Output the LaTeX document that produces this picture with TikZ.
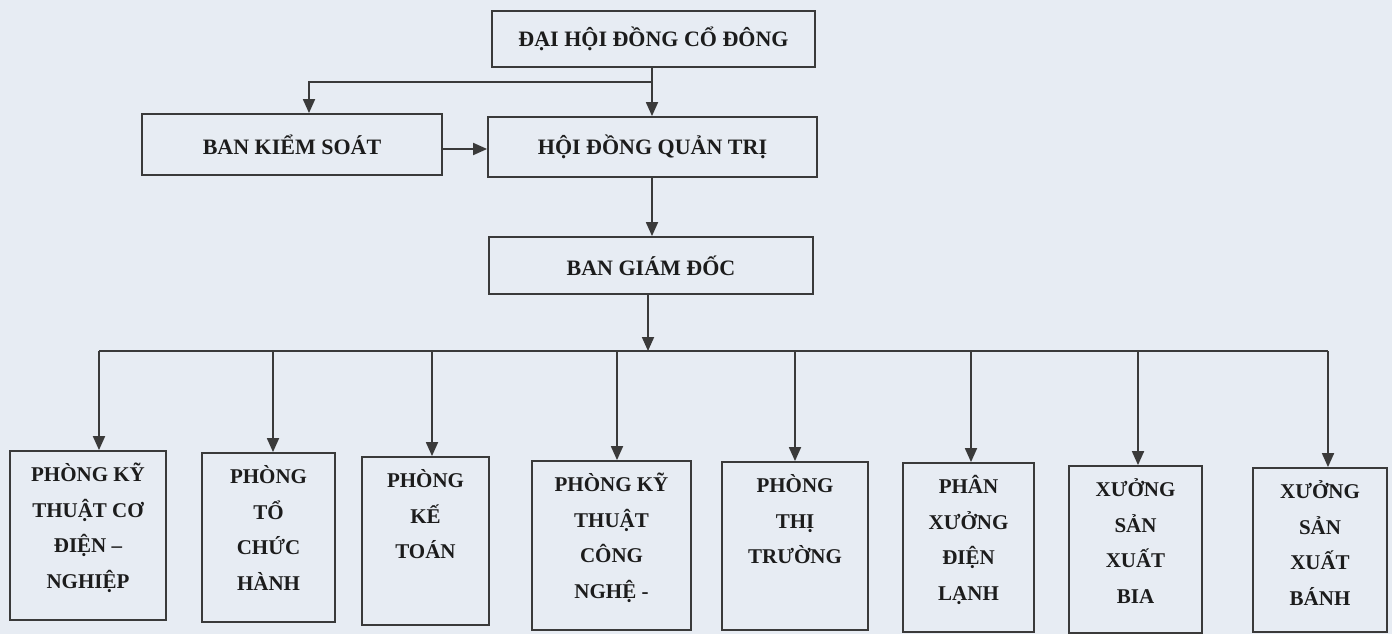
\documentclass[tikz,border=0pt]{standalone}
\usepackage{fontspec}
\setmainfont{Liberation Serif}
\usetikzlibrary{arrows.meta}
\definecolor{bg}{HTML}{E7ECF3}
\definecolor{ln}{HTML}{3A3A3A}
\definecolor{tx}{HTML}{1C1C1C}
\tikzset{
  box/.style={draw=ln, line width=1.8pt, rectangle, inner sep=0pt, text=tx,
    font=\fontsize{22}{26}\selectfont\bfseries},
  dept/.style={draw=ln, line width=1.8pt, rectangle, inner sep=0pt},
  deptlabel/.style={anchor=north, yshift=-6.5pt, align=center, inner sep=0pt, text=tx,
    font=\fontsize{21}{35.5}\selectfont\bfseries},
  arr/.style={draw=ln, line width=1.8pt, -{Triangle[length=14pt,width=12pt]}},
  ln/.style={draw=ln, line width=1.8pt}
}
\newcommand{\fl}{\rule{0pt}{25pt}}
\begin{document}
\begin{tikzpicture}[x=1pt,y=-1pt]
\fill[bg] (0,0) rectangle (1392,634);
\useasboundingbox (0,0) rectangle (1392,634);

\node[box, minimum width=323pt, minimum height=56pt] (dh) at (653.5,39) {ĐẠI HỘI ĐỒNG CỔ ĐÔNG};
\node[box, minimum width=300pt, minimum height=61pt] (bks) at (292,144.5) {BAN KIỂM SOÁT};
\node[box, minimum width=329pt, minimum height=60pt] (hdqt) at (652.5,147) {HỘI ĐỒNG QUẢN TRỊ};
\node[box, minimum width=324pt, minimum height=57pt] (bgd) at (651,265.5) {BAN GIÁM ĐỐC};

\node[dept, minimum width=156pt, minimum height=169pt, label={[deptlabel]north:{\fl PHÒNG KỸ\\THUẬT CƠ\\ĐIỆN –\\NGHIỆP}}] (d1) at (88,535.5) {};
\node[dept, minimum width=133pt, minimum height=169pt, label={[deptlabel]north:{\fl PHÒNG\\TỔ\\CHỨC\\HÀNH}}] (d2) at (268.5,537.5) {};
\node[dept, minimum width=127pt, minimum height=168pt, label={[deptlabel]north:{\fl PHÒNG\\KẾ\\TOÁN}}] (d3) at (425.5,541) {};
\node[dept, minimum width=159pt, minimum height=169pt, label={[deptlabel]north:{\fl PHÒNG KỸ\\THUẬT\\CÔNG\\NGHỆ -}}] (d4) at (611.5,545.5) {};
\node[dept, minimum width=146pt, minimum height=168pt, label={[deptlabel]north:{\fl PHÒNG\\THỊ\\TRƯỜNG}}] (d5) at (795,546) {};
\node[dept, minimum width=131pt, minimum height=169pt, label={[deptlabel]north:{\fl PHÂN\\XƯỞNG\\ĐIỆN\\LẠNH}}] (d6) at (968.5,547.5) {};
\node[dept, minimum width=133pt, minimum height=167pt, label={[deptlabel]north:{\fl XƯỞNG\\SẢN\\XUẤT\\BIA}}] (d7) at (1135.5,549.5) {};
\node[dept, minimum width=134pt, minimum height=164pt, label={[deptlabel]north:{\fl XƯỞNG\\SẢN\\XUẤT\\BÁNH}}] (d8) at (1320,550) {};

% top connectors
\coordinate (j) at (652,82);
\coordinate (jl) at (309,82);
\draw[arr] (dh.south -| j) -- (j |- hdqt.north);
\draw[arr] (j) -- (jl) -- (jl |- bks.north);
\coordinate (bk) at (0,149);
\draw[arr] (bks.east |- bk) -- (hdqt.west |- bk);
\draw[arr] (hdqt.south -| j) -- (bgd.north -| j);

% bus
\coordinate (bm) at (648,351);
\draw[arr] (bgd.south -| bm) -- (bm);
\coordinate (b1) at (99,351);
\coordinate (b2) at (273,351);
\coordinate (b3) at (432,351);
\coordinate (b4) at (617,351);
\coordinate (b5) at (795,351);
\coordinate (b6) at (971,351);
\coordinate (b7) at (1138,351);
\coordinate (b8) at (1328,351);
\draw[ln] (b1) -- (b8);
\foreach \i in {1,...,8} {
  \draw[arr] (b\i) -- (b\i |- d\i.north);
}
\end{tikzpicture}
\end{document}
